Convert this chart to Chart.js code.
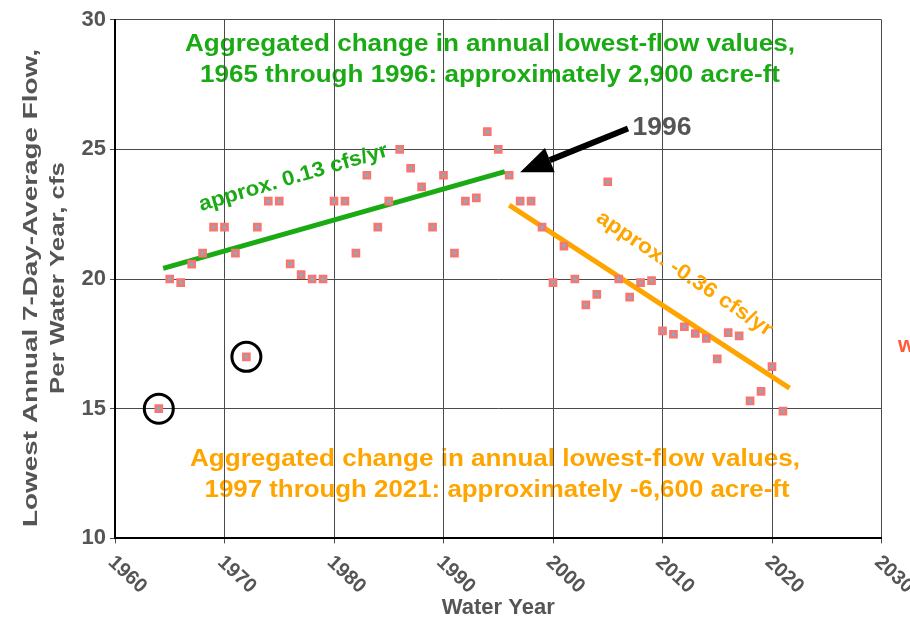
<!DOCTYPE html>
<html>
<head>
<meta charset="utf-8">
<script src="https://cdn.jsdelivr.net/npm/chart.js@4.4.1/dist/chart.umd.min.js"></script>
<style>
  html, body { margin: 0; padding: 0; background: #fff; }
  #wrap { width: 910px; height: 621px; position: relative; }
</style>
</head>
<body>
<div id="wrap"><canvas id="c" width="910" height="621"></canvas></div>
<script>
// ---- Data ----
const years = [1964, 1965, 1966, 1967, 1968, 1969, 1970, 1971, 1972, 1973, 1974, 1975, 1976, 1977, 1978, 1979,
  1980, 1981, 1982, 1983, 1984, 1985, 1986, 1987, 1988, 1989, 1990, 1991, 1992, 1993, 1994, 1995, 1996,
  1997, 1998, 1999, 2000, 2001, 2002, 2003, 2004, 2005, 2006, 2007, 2008, 2009, 2010, 2011, 2012, 2013,
  2014, 2015, 2016, 2017, 2018, 2019, 2020, 2021];
const lowFlow = [15.0, 20.0, 19.86, 20.57, 21.0, 22.0, 22.0, 21.0, 17.0, 22.0, 23.0, 23.0, 20.58, 20.17, 20.0, 20.0,
  23.0, 23.0, 21.0, 24.0, 22.0, 23.0, 25.0, 24.27, 23.55, 22.0, 24.0, 21.0, 23.0, 23.13, 25.68, 25.0, 24.0,
  23.0, 23.0, 22.0, 19.86, 21.27, 20.0, 19.0, 19.41, 23.75, 20.0, 19.3, 19.86, 19.94, 18.0, 17.87, 18.16, 17.9,
  17.71, 16.92, 17.93, 17.81, 15.3, 15.67, 16.62, 14.91];
const circledYears = [1964, 1972];
const circledValues = [15.0, 17.0];
const trendEarlyX = [1964.4, 1995.6];
const trendEarlyY = [20.41, 24.14];
const trendLateX = [1996.0, 2021.6];
const trendLateY = [22.85, 15.79];
const xTickLabels = [1960, 1970, 1980, 1990, 2000, 2010, 2020, 2030];
const yTickLabels = [10, 15, 20, 25, 30];
const yTitleLines = ['Lowest Annual 7-Day-Average Flow,', 'Per Water Year, cfs'];

const GREEN = '#1aab14';
const ORANGE = '#ffa500';
const GRAY = '#555555';
const FONT = '"Liberation Sans", Arial, Helvetica, sans-serif';

const pts = (xs, ys) => xs.map((x, i) => ({ x: x, y: ys[i] }));

// draw text centred at (cx, cy), rotated by angle (deg), horizontally stretched to a target length
function drawFit(ctx, text, cx, cy, target, font, color, angle) {
  ctx.save();
  ctx.font = font;
  ctx.fillStyle = color;
  ctx.textAlign = 'center';
  ctx.textBaseline = 'middle';
  const w = ctx.measureText(text).width;
  ctx.translate(cx, cy);
  if (angle) ctx.rotate(angle * Math.PI / 180);
  ctx.scale(target / w, 1);
  ctx.fillText(text, 0, 0);
  ctx.restore();
}

// Annotation text drawn under the grid lines (as in the reference)
const underText = {
  id: 'underText',
  beforeDraw(chart) {
    const { ctx } = chart;
    const f = 'bold 23px ' + FONT;
    drawFit(ctx, 'Aggregated change in annual lowest-flow values,', 490, 45, 610, f, GREEN);
    drawFit(ctx, '1965 through 1996: approximately 2,900 acre-ft', 490, 76, 580, f, GREEN);
    drawFit(ctx, 'Aggregated change in annual lowest-flow values,', 495, 460, 610, f, ORANGE);
    drawFit(ctx, '1997 through 2021: approximately -6,600 acre-ft', 497, 491, 585, f, ORANGE);
  }
};

// Overlay annotations: slope labels, arrow, 1996 label, axis labels
const overlay = {
  id: 'overlay',
  afterDatasetsDraw(chart) {
    const { ctx, scales: { x, y }, chartArea } = chart;
    // slope labels
    drawFit(ctx, 'approx. 0.13 cfs/yr', x.getPixelForValue(1976.3), y.getPixelForValue(23.9), 196,
      'bold 21px ' + FONT, GREEN, -16.3);
    drawFit(ctx, 'approx. -0.36 cfs/yr', x.getPixelForValue(2012.0), y.getPixelForValue(20.2), 208,
      'bold 21px ' + FONT, ORANGE, 34);

    ctx.save();
    // arrow
    const tx = x.getPixelForValue(1997.0), ty = y.getPixelForValue(24.12);
    const sx = x.getPixelForValue(2006.85), sy = y.getPixelForValue(25.8);
    const ang = Math.atan2(ty - sy, tx - sx);
    const headL = 32, headW = 13;
    const bx = tx - headL * Math.cos(ang), by = ty - headL * Math.sin(ang);
    ctx.strokeStyle = '#000';
    ctx.lineWidth = 6;
    ctx.beginPath();
    ctx.moveTo(sx, sy);
    ctx.lineTo(bx, by);
    ctx.stroke();
    ctx.fillStyle = '#000';
    ctx.beginPath();
    ctx.moveTo(tx, ty);
    ctx.lineTo(bx + headW * Math.sin(ang), by - headW * Math.cos(ang));
    ctx.lineTo(bx - headW * Math.sin(ang), by + headW * Math.cos(ang));
    ctx.closePath();
    ctx.fill();
    ctx.restore();

    drawFit(ctx, '1996', 662, 128, 59, 'bold 25px ' + FONT, GRAY);

    // cut-off red text at right edge
    ctx.save();
    ctx.fillStyle = '#ff5a36';
    ctx.font = 'bold 22px ' + FONT;
    ctx.textBaseline = 'middle';
    ctx.fillText('w', 898, 346);
    ctx.restore();

    // y-axis title (two lines, rotated)
    drawFit(ctx, yTitleLines[0], 31, 288, 478, 'bold 20px ' + FONT, GRAY, -90);
    drawFit(ctx, yTitleLines[1], 58, 278, 232, 'bold 20px ' + FONT, GRAY, -90);

    // x tick labels rotated clockwise
    ctx.save();
    ctx.font = 'bold 20px ' + FONT;
    ctx.fillStyle = GRAY;
    ctx.textAlign = 'left';
    ctx.textBaseline = 'middle';
    xTickLabels.forEach(v => {
      const px = x.getPixelForValue(v);
      ctx.setTransform(1, 0, 0, 1, 0, 0);
      ctx.translate(px - 4, chartArea.bottom + 21);
      ctx.rotate(43 * Math.PI / 180);
      ctx.fillText(String(v), 0, 0);
    });
    ctx.restore();
  }
};

new Chart(document.getElementById('c'), {
  type: 'scatter',
  data: {
    datasets: [
      {
        label: 'Lowest annual 7-day-average flow',
        data: pts(years, lowFlow),
        pointStyle: 'rect',
        pointRadius: 4.3,
        pointBackgroundColor: '#8aa8c8',
        pointBorderColor: '#f7766e',
        pointBorderWidth: 2.6,
        order: 2
      },
      {
        type: 'line',
        label: 'Trend 1965-1996',
        data: pts(trendEarlyX, trendEarlyY),
        borderColor: GREEN,
        borderWidth: 5,
        pointRadius: 0,
        fill: false,
        order: 3
      },
      {
        type: 'line',
        label: 'Trend 1997-2021',
        data: pts(trendLateX, trendLateY),
        borderColor: ORANGE,
        borderWidth: 5,
        pointRadius: 0,
        fill: false,
        order: 3
      },
      {
        label: 'Circled',
        data: pts(circledYears, circledValues),
        pointStyle: 'circle',
        pointRadius: 14.5,
        pointBackgroundColor: 'rgba(0,0,0,0)',
        pointBorderColor: '#000',
        pointBorderWidth: 3,
        order: 1
      }
    ]
  },
  options: {
    responsive: false,
    animation: false,
    layout: { padding: { top: 19.6, right: 28.5, left: 0, bottom: 0 } },
    plugins: { legend: { display: false }, tooltip: { enabled: false } },
    scales: {
      x: {
        type: 'linear',
        min: 1960, max: 2030,
        afterBuildTicks: s => { s.ticks = xTickLabels.map(v => ({ value: v })); },
        afterFit: s => { s.height = 82.6; },
        ticks: { display: false },
        grid: { color: '#4a4a4a', lineWidth: 1, tickLength: 5, drawTicks: true },
        border: { color: '#000', width: 2 },
        title: {
          display: true, text: 'Water Year', color: GRAY,
          font: { family: FONT, size: 22, weight: 'bold' },
          padding: { top: 0, bottom: 0 }
        }
      },
      y: {
        min: 10, max: 30,
        afterBuildTicks: s => { s.ticks = yTickLabels.map(v => ({ value: v })); },
        afterFit: s => { s.width = 115; },
        ticks: { color: GRAY, font: { family: FONT, size: 22, weight: 'bold' }, padding: 4 },
        grid: { color: '#4a4a4a', lineWidth: 1, tickLength: 5 },
        border: { color: '#000', width: 2 },
        title: { display: false }
      }
    }
  },
  plugins: [underText, overlay]
});
</script>
</body>
</html>
